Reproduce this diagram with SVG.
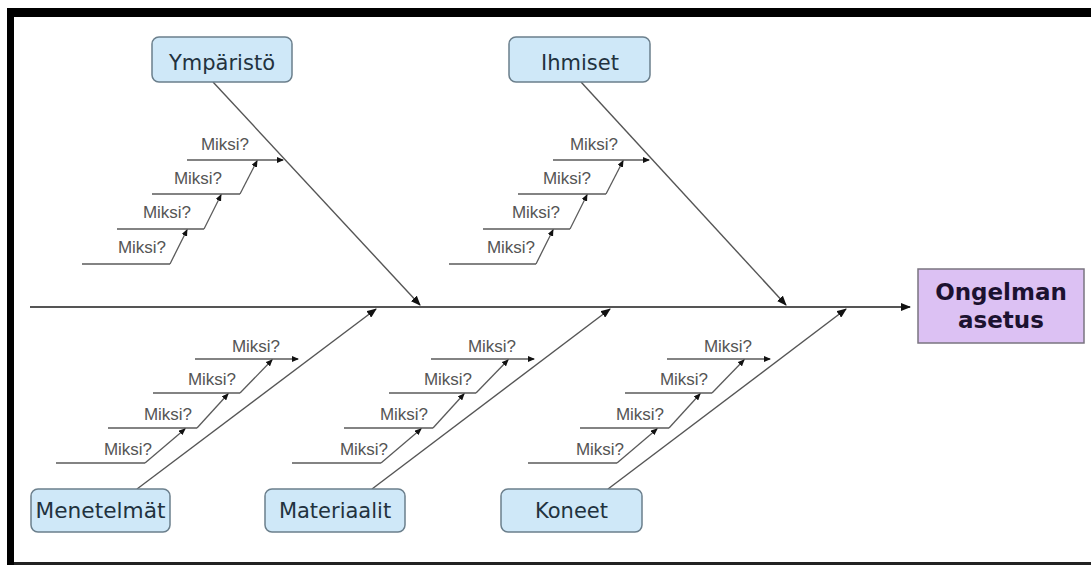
<svg xmlns="http://www.w3.org/2000/svg" width="1091" height="565" viewBox="0 0 1091 565">
<defs>
<style>
.cat rect{fill:#cfe8f8;stroke:#6b7f8c;stroke-width:1.5}
.cat text{font-family:"DejaVu Sans",sans-serif;font-size:21px;fill:#22323e;text-anchor:middle}
.miksi{font-family:"Liberation Sans",Arial,sans-serif;font-size:17px;fill:#555;text-anchor:middle}
.bone{stroke:#555;stroke-width:1.4;fill:none;marker-end:url(#big)}
.sub{stroke:#5a5a5a;stroke-width:1.3;fill:none}
.subA{stroke:#5a5a5a;stroke-width:1.3;fill:none;marker-end:url(#small)}
</style>
<marker id="big" markerUnits="userSpaceOnUse" markerWidth="10" markerHeight="8" refX="9" refY="4" orient="auto">
<path d="M0,0 L10,4 L0,8 z" fill="#111"/>
</marker>
<marker id="small" markerUnits="userSpaceOnUse" markerWidth="7" markerHeight="6" refX="6" refY="3" orient="auto">
<path d="M0,0 L7,3 L0,6 z" fill="#111"/>
</marker>
</defs>
<rect x="0" y="0" width="1091" height="565" fill="#fff"/>
<!-- frame -->
<rect x="7" y="8" width="1084" height="9" fill="#000"/>
<rect x="7" y="8" width="7" height="557" fill="#000"/>
<rect x="14" y="562" width="1077" height="3" fill="#222"/>

<g id="connectors">
<!-- spine -->
<line x1="30" y1="307" x2="910" y2="307" stroke="#555" stroke-width="2" marker-end="url(#big)"/>
<!-- main bones -->
<line class="bone" x1="213" y1="82" x2="420" y2="305"/>
<line class="bone" x1="581" y1="82" x2="786" y2="305"/>
<line class="bone" x1="137" y1="489" x2="376" y2="309"/>
<line class="bone" x1="372" y1="489" x2="610" y2="309"/>
<line class="bone" x1="608" y1="489" x2="846" y2="309"/>

<!-- Ympäristö sub-causes -->
<g id="sub-ymparisto">
<line class="subA" x1="187" y1="160" x2="283" y2="160"/>
<polyline class="sub" points="152,194 240,194"/>
<line class="subA" x1="240" y1="194" x2="257" y2="161"/>
<polyline class="sub" points="117,229 204,229"/>
<line class="subA" x1="204" y1="229" x2="221" y2="195"/>
<polyline class="sub" points="82,264 170,264"/>
<line class="subA" x1="170" y1="264" x2="187" y2="230"/>
<text class="miksi" x="225" y="150">Miksi?</text>
<text class="miksi" x="198" y="184">Miksi?</text>
<text class="miksi" x="167" y="218">Miksi?</text>
<text class="miksi" x="142" y="253">Miksi?</text>
</g>

<!-- Ihmiset sub-causes -->
<g id="sub-ihmiset" transform="translate(366,0)">
<line class="subA" x1="187" y1="160" x2="283" y2="160"/>
<polyline class="sub" points="152,194 240,194"/>
<line class="subA" x1="240" y1="194" x2="257" y2="161"/>
<polyline class="sub" points="117,229 204,229"/>
<line class="subA" x1="204" y1="229" x2="221" y2="195"/>
<polyline class="sub" points="83,264 170,264"/>
<line class="subA" x1="170" y1="264" x2="187" y2="230"/>
<text class="miksi" x="228" y="150">Miksi?</text>
<text class="miksi" x="201" y="184">Miksi?</text>
<text class="miksi" x="170" y="218">Miksi?</text>
<text class="miksi" x="145" y="253">Miksi?</text>
</g>

<!-- Menetelmät sub-causes -->
<g id="sub-menetelmat">
<line class="subA" x1="195" y1="359" x2="298" y2="359"/>
<polyline class="sub" points="153,393 240,393"/>
<line class="subA" x1="240" y1="393" x2="272" y2="360"/>
<polyline class="sub" points="108,428 197,428"/>
<line class="subA" x1="197" y1="428" x2="228" y2="394"/>
<polyline class="sub" points="56,463 145,463"/>
<line class="subA" x1="145" y1="463" x2="185" y2="429"/>
<text class="miksi" x="256" y="352">Miksi?</text>
<text class="miksi" x="212" y="385">Miksi?</text>
<text class="miksi" x="168" y="420">Miksi?</text>
<text class="miksi" x="128" y="455">Miksi?</text>
</g>

<!-- Materiaalit sub-causes -->
<g id="sub-materiaalit" transform="translate(236,0)">
<line class="subA" x1="195" y1="359" x2="298" y2="359"/>
<polyline class="sub" points="153,393 240,393"/>
<line class="subA" x1="240" y1="393" x2="272" y2="360"/>
<polyline class="sub" points="108,428 197,428"/>
<line class="subA" x1="197" y1="428" x2="228" y2="394"/>
<polyline class="sub" points="56,463 145,463"/>
<line class="subA" x1="145" y1="463" x2="185" y2="429"/>
<text class="miksi" x="256" y="352">Miksi?</text>
<text class="miksi" x="212" y="385">Miksi?</text>
<text class="miksi" x="168" y="420">Miksi?</text>
<text class="miksi" x="128" y="455">Miksi?</text>
</g>

<!-- Koneet sub-causes -->
<g id="sub-koneet" transform="translate(472,0)">
<line class="subA" x1="195" y1="359" x2="298" y2="359"/>
<polyline class="sub" points="153,393 240,393"/>
<line class="subA" x1="240" y1="393" x2="272" y2="360"/>
<polyline class="sub" points="108,428 197,428"/>
<line class="subA" x1="197" y1="428" x2="228" y2="394"/>
<polyline class="sub" points="56,463 145,463"/>
<line class="subA" x1="145" y1="463" x2="185" y2="429"/>
<text class="miksi" x="256" y="352">Miksi?</text>
<text class="miksi" x="212" y="385">Miksi?</text>
<text class="miksi" x="168" y="420">Miksi?</text>
<text class="miksi" x="128" y="455">Miksi?</text>
</g>
</g>

<g id="ymparisto" class="cat">
<rect x="152" y="37" width="140" height="45" rx="7"/>
<text x="222" y="70">Ympäristö</text>
</g>
<g id="ihmiset" class="cat">
<rect x="509" y="37" width="141" height="45" rx="7"/>
<text x="580" y="70">Ihmiset</text>
</g>
<g id="menetelmat" class="cat">
<rect x="31" y="489" width="139" height="43" rx="7"/>
<text x="100.5" y="518" textLength="130" lengthAdjust="spacingAndGlyphs">Menetelmät</text>
</g>
<g id="materiaalit" class="cat">
<rect x="265" y="489" width="140" height="43" rx="7"/>
<text x="335" y="518">Materiaalit</text>
</g>
<g id="koneet" class="cat">
<rect x="501" y="489" width="141" height="43" rx="7"/>
<text x="571.5" y="518">Koneet</text>
</g>
<g id="ongelman-asetus">
<rect x="918" y="269" width="166" height="74" fill="#dcc1f3" stroke="#7a7480" stroke-width="1.5"/>
<text x="1001" y="300" font-family="DejaVu Sans, sans-serif" font-weight="bold" font-size="23" fill="#1c1230" text-anchor="middle">Ongelman</text>
<text x="1001" y="328" font-family="DejaVu Sans, sans-serif" font-weight="bold" font-size="23" fill="#1c1230" text-anchor="middle">asetus</text>
</g>
</svg>
